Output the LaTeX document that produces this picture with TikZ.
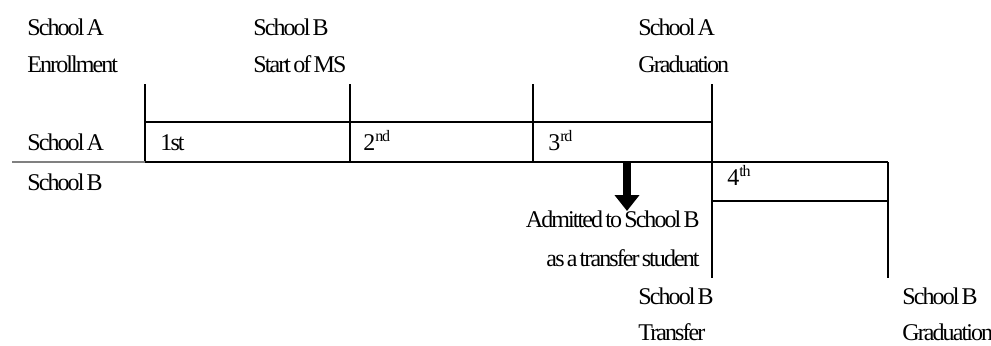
\documentclass[tikz,border=0pt]{standalone}
\usepackage{fontspec}
\setmainfont{Liberation Serif}[LetterSpace=-8, WordSpace=0.55]
\usetikzlibrary{arrows.meta}
\begin{document}
\begin{tikzpicture}[x=0.5pt,y=-0.5pt]
\tikzset{lbl/.style={anchor=base west, inner sep=0pt, font=\fontsize{12}{14}\selectfont},
  lblr/.style={lbl, anchor=base east},
  rule/.style={line width=0.75pt}}
\useasboundingbox (0,0) rectangle (991,345);
% milestones above
\node[lbl] (EnrA1) at (27,35) {School A};
\node[lbl] (EnrA2) at (27,72) {Enrollment};
\node[lbl] (StB1) at (253,35) {School B};
\node[lbl] (StB2) at (253,72) {Start of MS};
\node[lbl] (GrA1) at (638,35) {School A};
\node[lbl] (GrA2) at (638,72) {Graduation};
% rows
\node[lbl] (RowA) at (27,150) {School A};
\node[lbl] (RowB) at (27,190) {School B};
\node[lbl] (Y1) at (160,150) {1st};
\node[lbl] (Y2) at (363,150) {2\textsuperscript{nd}};
\node[lbl] (Y3) at (548,150) {3\textsuperscript{rd}};
\node[lbl] (Y4) at (727,185) {4\textsuperscript{th}};
% grid
\draw[rule] (145,84) -- (145,162);
\draw[rule] (350,84) -- (350,162);
\draw[rule] (533,84) -- (533,162);
\draw[rule] (712,84) -- (712,278);
\draw[rule] (888,162) -- (888,278);
\draw[rule] (145,122) -- (712,122);
\draw[rule] (145,162) -- (888,162);
\draw[rule] (712,201) -- (888,201);
\draw[rule, gray] (12,162) -- (145,162);
% transfer
\node[lblr] (Adm1) at (700,227) {Admitted to School B};
\node[lblr] (Adm2) at (700,266) {as a transfer student};
\coordinate (ArrTop) at (627,161);
\coordinate (ArrTip) at (627,211);
\draw[line width=4pt, -{Triangle[length=8pt, width=12pt]}] (ArrTop) -- (ArrTip);
% milestones below
\node[lbl] (TrB1) at (638,304) {School B};
\node[lbl] (TrB2) at (638,340) {Transfer};
\node[lbl] (GrB1) at (902,304) {School B};
\node[lbl] (GrB2) at (902,340) {Graduation};
\end{tikzpicture}
\end{document}
